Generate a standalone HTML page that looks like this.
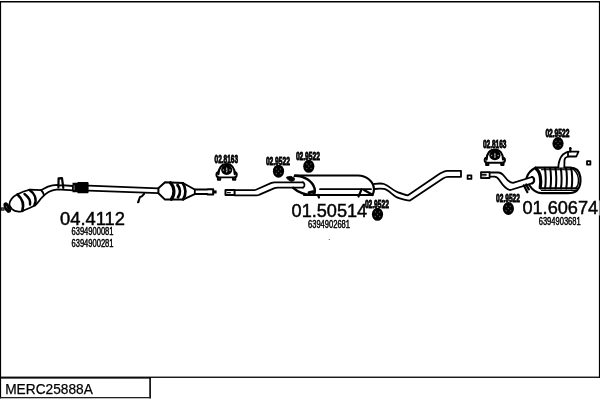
<!DOCTYPE html>
<html>
<head>
<meta charset="utf-8">
<title>MERC25888A</title>
<style>
html,body{margin:0;padding:0;background:#fff;}
body{width:600px;height:400px;overflow:hidden;font-family:"Liberation Sans",sans-serif;}
svg{display:block;position:absolute;left:0;top:0;will-change:transform;}
text{font-family:"Liberation Sans",sans-serif;fill:#000;}
.big{font-size:17.6px;stroke:#000;stroke-width:0.45;}
.oe{font-size:10.3px;stroke:#000;stroke-width:0.45;}
.lbl{font-size:11.2px;font-weight:bold;stroke:#000;stroke-width:0.9;}
.ln{fill:none;stroke:#000;stroke-width:1.8;stroke-linecap:round;stroke-linejoin:round;}
.lnw{fill:#fff;stroke:#000;stroke-width:1.8;stroke-linecap:round;stroke-linejoin:round;}
.thk{fill:none;stroke:#000;stroke-width:2.2;stroke-linecap:round;stroke-linejoin:round;}
</style>
</head>
<body>
<svg width="600" height="400" viewBox="0 0 600 400">

<!-- frame -->
<g id="frame" fill="#000" stroke="none">
<rect x="0" y="1" width="1.1" height="397.4"/>
<rect x="0" y="1" width="600" height="1.5"/>
<rect x="598.9" y="1" width="1.1" height="377"/>
<rect x="0" y="376.6" width="600" height="1.3"/>
<rect x="0" y="377.4" width="150.9" height="1.2"/>
<rect x="149.3" y="377" width="1.6" height="21.4"/>
<rect x="0" y="397" width="150.9" height="1.3" fill="#222"/>
</g>
<text x="5.2" y="394" style="font-size:14px;stroke:#000;stroke-width:0.25" textLength="87.6" lengthAdjust="spacingAndGlyphs">MERC25888A</text>

<!-- ============ PART 1 : front cat + pipe ============ -->
<g id="p1">
<!-- left stub + ring -->
<path d="M0 209 H4.6" stroke="#000" stroke-width="3.2" fill="none"/>
<rect x="1.6" y="208.3" width="2" height="1.4" fill="#777"/>
<ellipse cx="6.9" cy="207.3" rx="1.5" ry="3.9" transform="rotate(-24 6.9 207.3)" fill="#fff" stroke="#000" stroke-width="2.6"/>
<path d="M8.3 207.5 C10.8 208.5 10.6 212.2 8 211.7" fill="none" stroke="#000" stroke-width="2.2" stroke-linecap="round"/>
<!-- front catalytic converter body + neck + pipe to flex -->
<path class="lnw" d="M9.3 204.3 C9.9 200.5 12.5 196.8 17 194.5 C21 192.5 26 190.6 30 189.7 L41 190.2 C43.5 189 46 187.4 48 186.6 C51 185.4 54 184.9 57.5 184.8 L73 186 V190.3 L57.5 189.4 C54 189.8 51 190.6 48.5 192 C45 194 43 196 41 198.5 C39 201 37.5 203.5 35 205.5 C31 207.5 26 209.5 21.5 211.3 C18 211.9 14 211.2 12 209.2 C10.5 207.6 9.6 206 9.3 204.3 Z"/>
<!-- ribs on cat -->
<path d="M17.5 194.5 C21.5 198 24.5 204 22.3 210.8" fill="none" stroke="#000" stroke-width="2.6" stroke-linecap="round"/>
<path d="M24.5 194 C28.5 197 30.8 200 30 204.5" fill="none" stroke="#000" stroke-width="2.4" stroke-linecap="round"/>
<path d="M29.5 190 C34 193 37.3 198.5 34.5 205" fill="none" stroke="#000" stroke-width="2.6" stroke-linecap="round"/>
<path class="ln" d="M41 190 C42.5 191.5 43.5 193 43.8 194.8"/>
<!-- bracket -->
<path d="M58.4 187.3 L58.6 178.4 L62 178.2 L63.3 187.8" fill="#fff" stroke="#000" stroke-width="2.2" stroke-linejoin="round" stroke-linecap="round"/>
<path class="ln" d="M58.5 185.5 L63 185.4"/>
<!-- flex section -->
<path d="M72.5 182.8 H77.5 V182 H87.5 Q88.6 182 88.6 183.2 V192 Q88.6 193.2 87.5 193.2 H77.5 V192.2 H72.5 Z" fill="#000"/>
<path d="M74.2 185.2 V190" stroke="#555" stroke-width="1.4" fill="none"/>
<!-- long pipe -->
<path class="ln" d="M88.5 185.7 L158.3 188.3"/>
<path class="ln" d="M88.5 190.7 L158.3 193.1"/>
<!-- hook -->
<path d="M144.2 193.8 L141.8 196.4 L140 197 L138 202.3" fill="none" stroke="#000" stroke-width="2" stroke-linecap="round" stroke-linejoin="round"/>
<path d="M139.6 199 L137.2 202.8 L139.3 202.8 Z" fill="#000"/>
<!-- second cat -->
<path class="lnw" style="stroke-width:2" d="M158.4 188.3 L165 182.3 L183 183 L194.7 189.5 H207.5 V189.3 H213.2 V194.5 H207.5 V194.1 H194.7 L183 199.6 L165 199.6 L158.4 193.2 Z"/>
<path class="ln" d="M194.8 189.5 V194.1"/>
<rect x="213.2" y="190.4" width="3.4" height="3.1" fill="#000"/>
<path d="M170.5 182.8 C174.9 187 174.9 195 171.3 199.2" fill="none" stroke="#000" stroke-width="3.2" stroke-linecap="round"/>
<path d="M177.5 185 C180.6 188.5 180.6 193.5 178 197.2" fill="none" stroke="#000" stroke-width="2.8" stroke-linecap="round"/>
<path d="M182.8 183.3 C186.2 187.5 186.2 195 183.2 199.3" fill="none" stroke="#000" stroke-width="2.7" stroke-linecap="round"/>
</g>
<text class="big" x="60" y="224.8" textLength="65" lengthAdjust="spacingAndGlyphs">04.4112</text>
<text class="oe" x="71.5" y="234.9" textLength="42" lengthAdjust="spacingAndGlyphs">6394900081</text>
<text class="oe" x="71.5" y="247.3" textLength="42" lengthAdjust="spacingAndGlyphs">6394900281</text>

<!-- ============ PART 2 : middle ============ -->
<g id="p2">
<!-- small pipe piece -->
<!-- start block + pipe -->
<path class="lnw" style="stroke-width:2" d="M225.5 189.9 H234.6 V195 H225.5 Z"/>
<rect x="227" y="192" width="3.8" height="1.3" fill="#111"/>
<path class="ln" d="M235 190.2 H253.5 Q255 190.2 256.5 189.5 L271.5 182.9 Q273 182.3 274.5 182.3 H303"/>
<path class="ln" d="M235 195.4 H256.5 Q258 195.4 259.5 194.7 L274.5 188.2 Q276 187.6 277.5 187.6 H303"/>
<!-- muffler -->
<path class="thk" d="M295 175.5 H358 C366 175.5 373.5 181 374 189 C374 192 373 194 372.5 195"/>
<path class="thk" d="M304 195 H372.5"/>
<path class="ln" d="M320 189.2 H371"/>
<path class="thk" d="M361.5 189.5 L358.5 196.5 M364 190 L372 194.5"/>
<path class="thk" d="M318 195 L319 197.5"/>
<!-- end cap left -->
<path class="thk" style="stroke-width:2.5" d="M295 175.7 C304 175.7 312.5 181 314.6 188.5 C315.3 192 314.5 194.3 312.3 194.8 C306 195.3 297.5 192 293.2 187.9"/>
<path class="ln" d="M303 182.3 C305 183 305 187 303 187.6"/>
<path d="M286.6 177 L291 176.3 L294.6 178.4 L294.2 180.4 L291.6 181.6 L289 180.2 L286.9 178.6 Z" fill="#000" stroke="#000" stroke-width="0.8" stroke-linejoin="round"/>
<path d="M293.5 177.3 L295.6 175.8" stroke="#000" stroke-width="1.3" fill="none"/>
<path d="M309 192.6 L313 191.6" stroke="#000" stroke-width="2.8" stroke-linecap="round"/>
<!-- outlet pipe -->
<path class="ln" d="M374 184 C378 183.5 381 183 384 184 C390 186 393 191.5 400 193 C403 193.7 405 195.2 408 195.3 L440 173.6 C442.5 172 444.5 170.8 447 170.8 H461 V176.8 H448 C446 176.8 444.5 177.5 443 178.4 L410 200.6 C406 200.5 402 199.2 399 198.2 C393 196.5 390 190.3 384 188.9 C381 188.3 378 188.5 374.5 189"/>
<!-- little square -->
<rect x="467.6" y="175.3" width="3.8" height="3.6" class="ln"/>
</g>
<text class="big" x="291.6" y="216.7" textLength="75.6" lengthAdjust="spacingAndGlyphs">01.50514</text>
<text class="oe" x="308" y="227.5" textLength="42" lengthAdjust="spacingAndGlyphs">6394902681</text>

<!-- ============ PART 3 : rear ============ -->
<g id="p3">
<path class="lnw" style="stroke-width:1.8" d="M481 172.1 H489.6 V178 H481 Z"/>
<rect x="481.6" y="173.7" width="5" height="2.1" fill="#111"/>
<rect x="481.8" y="175.8" width="3.8" height="1.4" fill="#bbb"/>
<path class="ln" d="M490 172.5 H498 C501 172.5 503 174.5 504.5 176.5 C507 180 509.5 182.8 513 182.8 L532 177"/>
<path class="ln" d="M490 176.7 H494.5 C496.5 176.8 498 178.2 499.5 180.3 C502.5 185 506 190 510.5 190 L532 183.3"/>
<!-- rear muffler -->
<path class="thk" d="M535.5 167.7 H570 C576 167.7 579.5 171 580.3 177 C581 183 580.5 187 577 190.5 C575 192.5 572 193.2 568 193.2 H542 C537 193.2 532.5 190 529.5 185.5"/>
<path class="thk" d="M535.5 167.7 C531 170 527.5 174 526.5 178"/>
<path class="thk" d="M532 177 C534.5 177.5 535 182 532.3 183.3"/>
<path d="M536.5 169.3 C540.2 172 541.6 180 540.2 187.8" fill="none" stroke="#000" stroke-width="3.2" stroke-linecap="round"/>
<path class="thk" d="M540.5 188.3 H577"/>
<path d="M541 190.5 H576.5" stroke="#000" stroke-width="1" fill="none"/>
<path d="M541 169.7 H571" stroke="#000" stroke-width="1.1" fill="none"/>
<path class="ln" d="M570.6 168 C575 169.5 577.5 173 578.3 178 C578.9 183 578 186.5 575.4 188.6" style="stroke-width:1.4"/>
<path class="ln" d="M544.7 167.8 C546 173 546 183 545 188.5 M550 167.8 C551.3 173 551.3 183 550.3 188.5 M555.3 167.8 C556.6 173 556.6 183 555.6 188.5 M560.6 167.8 C561.9 173 561.9 183 560.9 188.5 M565.9 167.8 C567.2 173 567.2 183 566.2 188.5 M571 167.8 C572.5 173 572.5 183 571.5 188.5" style="stroke-width:2"/>
<!-- hanger ticks -->
<path class="thk" d="M523.8 185.3 L527.4 192.2 M526.2 184.4 L528.9 189.4"/>
<!-- tail pipe -->
<path class="lnw" d="M558.3 167.5 C558.5 162 560 157.5 563 154.5 C565.5 152.3 567.5 151.7 570 151.6 H578.5 L576.3 156.5 H568 C566 157 564.7 158 564.5 160 L564.3 167.5"/>
<path class="ln" d="M568 151.7 V156.5"/>
<path class="thk" d="M570.3 148.5 V151.5"/>
<circle cx="570.3" cy="148.2" r="1.2" fill="#000"/>
<rect x="587" y="161.2" width="3.4" height="3.4" class="ln"/>
</g>
<rect x="598" y="200.5" width="2" height="15" fill="#fff" opacity="0.55"/>
<text class="big" x="522.4" y="214" textLength="75.8" lengthAdjust="spacingAndGlyphs">01.60674</text>
<text class="oe" x="538.7" y="224.9" textLength="42" lengthAdjust="spacingAndGlyphs">6394903681</text>

<rect x="328.8" y="239" width="1" height="1" fill="#555"/>
<!-- ============ small part labels ============ -->
<defs>
<g id="ring">
<ellipse cx="0" cy="0" rx="5.6" ry="6.5" fill="#000"/>
<circle cx="-2" cy="-2.3" r="0.75" fill="#555"/>
<circle cx="2" cy="-2.3" r="0.75" fill="#555"/>
<circle cx="-2.2" cy="2.3" r="0.75" fill="#555"/>
<circle cx="2.2" cy="2.3" r="0.75" fill="#555"/>
<circle cx="0" cy="0" r="0.7" fill="#555"/>
</g>
<g id="hanger">
<rect x="-10.2" y="-0.4" width="20.4" height="5.4" rx="2.7" fill="#fff" stroke="#000" stroke-width="1.9"/>
<path class="thk" d="M-8.7 5 V7.3 H-6.4 V5.4 M6.4 5.4 V7.3 H8.7 V5" style="stroke-width:2"/>
<path d="M-8.2 1.8 C-8.2 -4.4 -4.8 -8.2 0 -8.2 C4.8 -8.2 8.2 -4.4 8.2 1.8 Z" fill="#fff"/>
<path class="thk" d="M-8.2 1.8 C-8.2 -4.4 -4.8 -8.2 0 -8.2 C4.8 -8.2 8.2 -4.4 8.2 1.8" style="stroke-width:2.2"/>
<ellipse cx="0.1" cy="-2.6" rx="5.6" ry="5.1" fill="#000"/>
<ellipse cx="0.1" cy="-2.4" rx="0.8" ry="2.7" fill="#aaa"/>
<circle cx="0.1" cy="-2.2" r="0.55" fill="#222"/>
<circle cx="-3.2" cy="-2.3" r="0.8" fill="#999"/>
<circle cx="3.4" cy="-2.3" r="0.8" fill="#999"/>
</g>
</defs>

<g id="labels">
<text class="lbl" x="214.6" y="163.30" textLength="23.4" lengthAdjust="spacingAndGlyphs">02.8163</text>
<use href="#hanger" x="226.6" y="172.4"/>
<text class="lbl" x="265.9" y="164.50" textLength="24.0" lengthAdjust="spacingAndGlyphs">02.9522</text>
<use href="#ring" x="278.5" y="171.2"/>
<text class="lbl" x="295.9" y="159.80" textLength="24.0" lengthAdjust="spacingAndGlyphs">02.9522</text>
<use href="#ring" x="308.8" y="166.3"/>
<text class="lbl" x="364.9" y="207.60" textLength="24.0" lengthAdjust="spacingAndGlyphs">02.9522</text>
<use href="#ring" x="377.5" y="214.3"/>
<text class="lbl" x="482.9" y="147.60" textLength="23.6" lengthAdjust="spacingAndGlyphs">02.8163</text>
<use href="#hanger" x="494.8" y="157.8"/>
<text class="lbl" x="545.4" y="137.00" textLength="24.0" lengthAdjust="spacingAndGlyphs">02.9522</text>
<use href="#ring" x="558.0" y="143.5"/>
<text class="lbl" x="496.1" y="202.00" textLength="23.8" lengthAdjust="spacingAndGlyphs">02.9522</text>
<use href="#ring" x="508.4" y="208.5"/>
</g>
</svg>
</body>
</html>
